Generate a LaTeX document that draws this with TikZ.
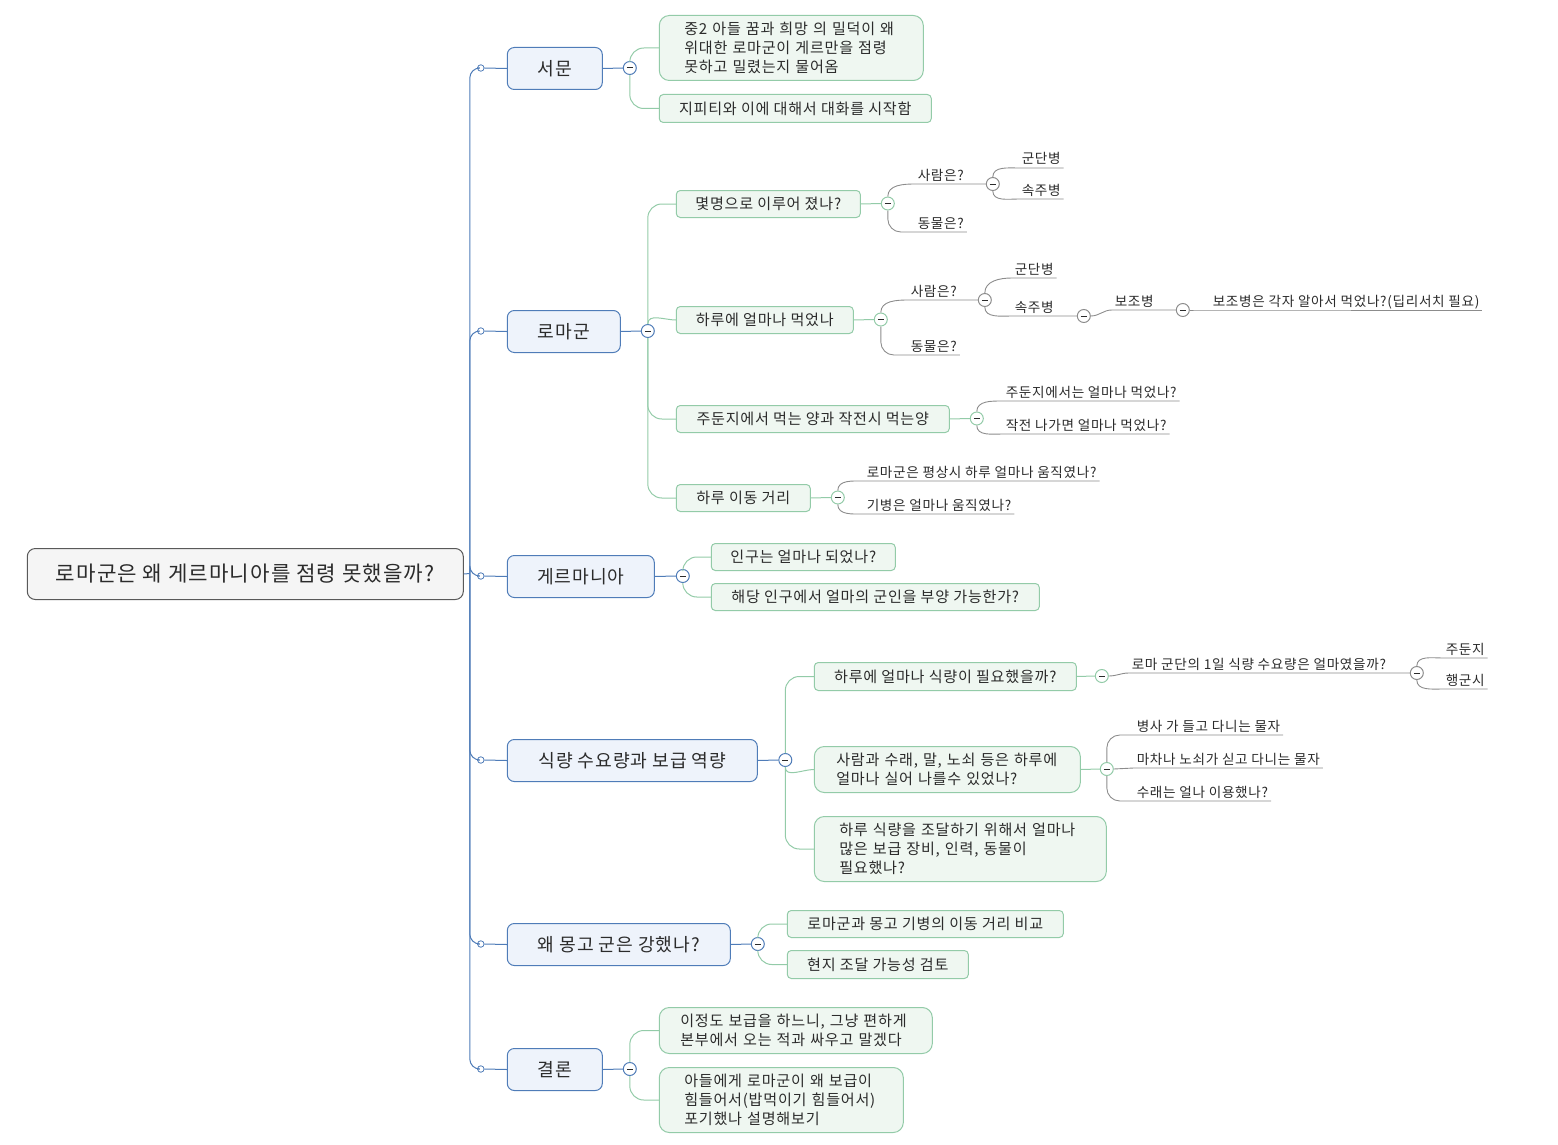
\documentclass[tikz,border=0pt]{standalone}
\usepackage{fontspec}
\setmainfont[LetterSpace=5]{Noto Sans CJK KR}
\usetikzlibrary{positioning}
\definecolor{linkblue}{HTML}{4F7CB8}
\definecolor{topfill}{HTML}{EEF3FB}
\definecolor{linkgreen}{HTML}{93CBA8}
\definecolor{subfill}{HTML}{EFF7F1}
\definecolor{linkgrey}{HTML}{8C8C8C}
\definecolor{inktext}{HTML}{2B2B2B}
\tikzset{
  rootbox/.style={draw=black!65,fill=black!4,rounded corners=8pt,line width=1pt,text=inktext,
    font=\fontsize{21.2}{25}\selectfont,minimum width=436pt,minimum height=51pt,anchor=north west,inner sep=0pt},
  topbox/.style={draw=linkblue,fill=topfill,rounded corners=7pt,line width=1pt,text=inktext,
    font=\fontsize{18.2}{22}\selectfont,minimum height=42pt,anchor=north west,inner sep=0pt},
  subbox/.style={draw=linkgreen,fill=subfill,rounded corners=4pt,line width=1pt,text=inktext,
    font=\fontsize{15.1}{19}\selectfont,minimum height=27pt,anchor=north west,inner sep=0pt},
  manybox/.style={subbox,rounded corners=10pt,align=left,inner ysep=0pt},
  leaf/.style={anchor=south west,inner xsep=3pt,inner ysep=1pt,outer sep=0pt,text=inktext,
    font=\fontsize{13.6}{16}\selectfont,text height=11pt,text depth=3pt},
  hubdot/.style={circle,draw=linkblue,fill=white,line width=0.8pt,inner sep=0pt,minimum size=6.5pt},
  minus/.style={circle,fill=white,line width=1pt,inner sep=0pt,minimum size=13pt,
    path picture={\draw[line width=1pt,inktext] (path picture bounding box.center) ++(-3,0) -- ++(6,0);}},
  bluelink/.style={draw=linkblue,line width=1pt,rounded corners=10pt},
  greenlink/.style={draw=linkgreen,line width=1pt,rounded corners=14pt},
  greylink/.style={draw=linkgrey,line width=0.9pt,rounded corners=13pt},
  bendlink/.style={sharp corners}
}
\begin{document}
\begin{tikzpicture}[x=1pt,y=-1pt]
  \useasboundingbox (0.2,0) rectangle (1558.2,1145);

  \node[rootbox] (root) at (27,548) {로마군은 왜 게르마니아를 점령 못했을까?};
  \coordinate (spine) at (470,573.5);

  \node[topbox,minimum width=95pt] (top1) at (507,47) {서문};
  \node[topbox,minimum width=113pt] (top2) at (507,310) {로마군};
  \node[topbox,minimum width=147pt] (top3) at (507,555) {게르마니아};
  \node[topbox,minimum width=250pt] (top4) at (507,739) {식량 수요량과 보급 역량};
  \node[topbox,minimum width=223pt] (top5) at (507,923) {왜 몽고 군은 강했나?};
  \node[topbox,minimum width=95pt] (top6) at (507,1048) {결론};

  \node[hubdot] (dot1) at (481,68) {};
  \node[hubdot] (dot2) at (481,331) {};
  \node[hubdot] (dot3) at (481,576) {};
  \node[hubdot] (dot4) at (481,760) {};
  \node[hubdot] (dot5) at (481,944) {};
  \node[hubdot] (dot6) at (481,1069) {};

  \draw[bluelink] (root.east) -- (spine);
  \draw[bluelink] (spine) |- (dot1.west);
  \draw[bluelink] (spine) |- (dot2.west);
  \draw[bluelink] (spine) |- (dot3.west);
  \draw[bluelink] (spine) |- (dot4.west);
  \draw[bluelink] (spine) |- (dot5.west);
  \draw[bluelink] (spine) |- (dot6.west);
  \draw[bluelink] (dot1.east) -- (top1.west);
  \draw[bluelink] (dot2.east) -- (top2.west);
  \draw[bluelink] (dot3.east) -- (top3.west);
  \draw[bluelink] (dot4.east) -- (top4.west);
  \draw[bluelink] (dot5.east) -- (top5.west);
  \draw[bluelink] (dot6.east) -- (top6.west);

  \node[minus,draw=linkblue] (m1) at (630,68) {};
  \node[minus,draw=linkblue] (m2) at (648,331) {};
  \node[minus,draw=linkblue] (m3) at (683,576) {};
  \node[minus,draw=linkblue] (m4) at (785.5,760) {};
  \node[minus,draw=linkblue] (m5) at (758,944) {};
  \node[minus,draw=linkblue] (m6) at (630,1069) {};
  \draw[bluelink] (top1.east) -- (m1.west);
  \draw[bluelink] (top2.east) -- (m2.west);
  \draw[bluelink] (top3.east) -- (m3.west);
  \draw[bluelink] (top4.east) -- (m4.west);
  \draw[bluelink] (top5.east) -- (m5.west);
  \draw[bluelink] (top6.east) -- (m6.west);

  \node[manybox,inner xsep=25pt,text width=214pt,minimum height=65pt] (a1) at (659,15) {중2 아들 꿈과 희망 의 밀덕이 왜\\위대한 로마군이 게르만을 점령\\못하고 밀렸는지 물어옴};
  \node[subbox,minimum width=272pt,minimum height=28pt] (a2) at (659,94) {지피티와 이에 대해서 대화를 시작함};
  \draw[greenlink] (m1.north) |- (a1.west);
  \draw[greenlink] (m1.south) |- (a2.west);

  \node[subbox,minimum width=184pt] (b1) at (676,190) {몇명으로 이루어 졌나?};
  \node[subbox,minimum width=177pt] (b2) at (676,306) {하루에 얼마나 먹었나};
  \node[subbox,minimum width=273pt] (b3) at (676,405) {주둔지에서 먹는 양과 작전시 먹는양};
  \node[subbox,minimum width=134pt] (b4) at (676,484) {하루 이동 거리};
  \draw[greenlink] (m2.north) |- (b1.west);
  \draw[greenlink,bendlink] (m2.north) to[out=90,in=180] (b2.west);
  \draw[greenlink] (m2.south) |- (b3.west);
  \draw[greenlink] (m2.south) |- (b4.west);

  \node[minus,draw=linkgreen] (n1) at (888,203.5) {};
  \node[minus,draw=linkgrey] (n2) at (993,184) {};
  \node[leaf] (q1) at (915,184) {사람은?};
  \node[leaf] (q2) at (915,232) {동물은?};
  \node[leaf] (q3) at (1019,168) {군단병};
  \node[leaf] (q4) at (1019,199) {속주병};
  \draw[greenlink] (b1.east) -- (n1.west);
  \draw[greylink,bendlink] (n1.north) to[out=90,in=180] (q1.south west) -- (q1.south east) -- (n2.west);
  \draw[greylink] (n1.south) |- (q2.south west) -- (q2.south east);
  \draw[greylink,bendlink] (n2.north) to[out=90,in=180] (q3.south west) -- (q3.south east);
  \draw[greylink,bendlink] (n2.south) to[out=-90,in=180] (q4.south west) -- (q4.south east);

  \node[minus,draw=linkgreen] (n3) at (881,319.5) {};
  \node[minus,draw=linkgrey] (n4) at (985,300) {};
  \node[minus,draw=linkgrey] (n5) at (1084,316) {};
  \node[minus,draw=linkgrey] (n6) at (1183,310) {};
  \node[leaf] (q5) at (908,300) {사람은?};
  \node[leaf] (q6) at (908,355) {동물은?};
  \node[leaf] (q7) at (1012,278) {군단병};
  \node[leaf] (q8) at (1012,316) {속주병};
  \node[leaf] (q9) at (1112,310) {보조병};
  \node[leaf] (q10) at (1210,310) {보조병은 각자 알아서 먹었나?(딥리서치 필요)};
  \draw[greenlink] (b2.east) -- (n3.west);
  \draw[greylink,bendlink] (n3.north) to[out=90,in=180] (q5.south west) -- (q5.south east) -- (n4.west);
  \draw[greylink] (n3.south) |- (q6.south west) -- (q6.south east);
  \draw[greylink,bendlink] (n4.north) to[out=90,in=180] (q7.south west) -- (q7.south east);
  \draw[greylink,bendlink] (n4.south) to[out=-90,in=180] (q8.south west) -- (q8.south east) -- (n5.west);
  \draw[greylink,bendlink] (n5.east) to[out=0,in=180] (q9.south west) -- (q9.south east) -- (n6.west);
  \draw[greylink] (n6.east) -- (q10.south west) -- (q10.south east);

  \node[minus,draw=linkgreen] (n7) at (977,418.5) {};
  \node[leaf] (q11) at (1003,401) {주둔지에서는 얼마나 먹었나?};
  \node[leaf] (q12) at (1003,434) {작전 나가면 얼마나 먹었나?};
  \draw[greenlink] (b3.east) -- (n7.west);
  \draw[greylink,bendlink] (n7.north) to[out=90,in=180] (q11.south west) -- (q11.south east);
  \draw[greylink,bendlink] (n7.south) to[out=-90,in=180] (q12.south west) -- (q12.south east);

  \node[minus,draw=linkgreen] (n8) at (838,497.5) {};
  \node[leaf] (q13) at (864,481) {로마군은 평상시 하루 얼마나 움직였나?};
  \node[leaf] (q14) at (864,514) {기병은 얼마나 움직였나?};
  \draw[greenlink] (b4.east) -- (n8.west);
  \draw[greylink,bendlink] (n8.north) to[out=90,in=180] (q13.south west) -- (q13.south east);
  \draw[greylink,bendlink] (n8.south) to[out=-90,in=180] (q14.south west) -- (q14.south east);

  \node[subbox,minimum width=184pt] (c1) at (711,543) {인구는 얼마나 되었나?};
  \node[subbox,minimum width=328pt] (c2) at (711,583) {해당 인구에서 얼마의 군인을 부양 가능한가?};
  \draw[greenlink] (m3.north) |- (c1.west);
  \draw[greenlink] (m3.south) |- (c2.west);

  \node[subbox,minimum width=262pt,minimum height=28pt] (d1) at (814,662) {하루에 얼마나 식량이 필요했을까?};
  \node[manybox,inner xsep=22pt,text width=222pt,minimum height=46pt] (d2) at (814,746) {사람과 수래, 말, 노쇠 등은 하루에\\얼마나 실어 나를수 있었나?};
  \node[manybox,inner xsep=25pt,text width=242pt,minimum height=65pt] (d3) at (814,816) {하루 식량을 조달하기 위해서 얼마나\\많은 보급 장비, 인력, 동물이\\필요했나?};
  \draw[greenlink] (m4.north) |- (d1.west);
  \draw[greenlink,bendlink] (m4.south) to[out=-90,in=180] (d2.west);
  \draw[greenlink] (m4.south) |- (d3.west);

  \node[minus,draw=linkgreen] (n9) at (1102,676) {};
  \node[minus,draw=linkgrey] (n10) at (1417,673) {};
  \node[leaf] (q15) at (1129,673) {로마 군단의 1일 식량 수요량은 얼마였을까?};
  \node[leaf] (q16) at (1443,658) {주둔지};
  \node[leaf] (q17) at (1443,689) {행군시};
  \draw[greenlink] (d1.east) -- (n9.west);
  \draw[greylink,bendlink] (n9.east) to[out=0,in=180] (q15.south west) -- (q15.south east) -- (n10.west);
  \draw[greylink,bendlink] (n10.north) to[out=90,in=180] (q16.south west) -- (q16.south east);
  \draw[greylink,bendlink] (n10.south) to[out=-90,in=180] (q17.south west) -- (q17.south east);

  \node[minus,draw=linkgreen] (n11) at (1107,769) {};
  \node[leaf] (q18) at (1134,735) {병사 가 들고 다니는 물자};
  \node[leaf] (q19) at (1134,768) {마차나 노쇠가 싣고 다니는 물자};
  \node[leaf] (q20) at (1134,801) {수래는 얼나 이용했나?};
  \draw[greenlink] (d2.east) -- (n11.west);
  \draw[greylink] (n11.north) |- (q18.south west) -- (q18.south east);
  \draw[greylink,bendlink] (n11.east) -- (q19.south west) -- (q19.south east);
  \draw[greylink] (n11.south) |- (q20.south west) -- (q20.south east);

  \node[subbox,minimum width=276pt] (e1) at (787,910) {로마군과 몽고 기병의 이동 거리 비교};
  \node[subbox,minimum width=181pt,minimum height=28pt] (e2) at (787,950) {현지 조달 가능성 검토};
  \draw[greenlink] (m5.north) |- (e1.west);
  \draw[greenlink] (m5.south) |- (e2.west);

  \node[manybox,inner xsep=21pt,text width=231pt,minimum height=46pt] (f1) at (659,1007) {이정도 보급을 하느니, 그냥 편하게\\본부에서 오는 적과 싸우고 말겠다};
  \node[manybox,inner xsep=25pt,text width=194pt,minimum height=65pt] (f2) at (659,1067) {아들에게 로마군이 왜 보급이\\힘들어서(밥먹이기 힘들어서)\\포기했나 설명해보기};
  \draw[greenlink] (m6.north) |- (f1.west);
  \draw[greenlink] (m6.south) |- (f2.west);
\end{tikzpicture}
\end{document}
